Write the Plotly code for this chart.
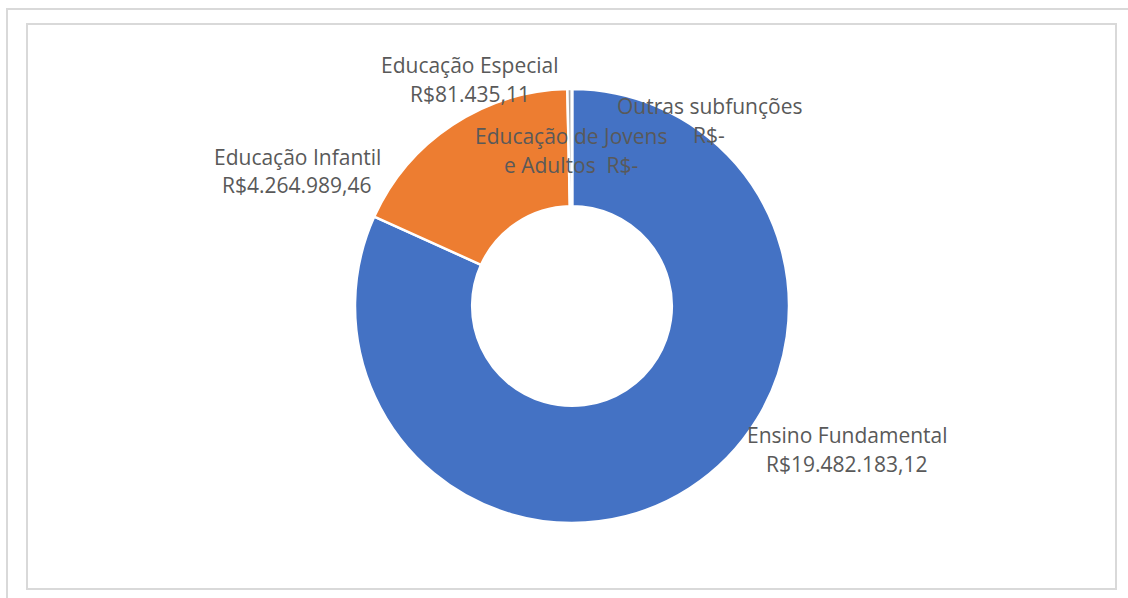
import plotly.graph_objects as go

# ---- data ----
categories = ["Ensino Fundamental", "Educação Infantil", "Educação Especial",
              "Educação de Jovens e Adultos", "Outras subfunções"]
values = [19482183.12, 4264989.46, 81435.11, 0.0, 0.0]
# label text as wrapped in the reference
label_lines = [["Ensino Fundamental"], ["Educação Infantil"], ["Educação Especial"],
               ["Educação de Jovens", "e Adultos "], ["Outras subfunções"]]
colors = ["#4472C4", "#ED7D31", "#A5A5A5", "#FFC000", "#5B9BD5"]

W, H = 1128, 598


def brl(v):
    if v == 0:
        return "R$-"
    s = f"{v:,.2f}"
    s = s.replace(",", "X").replace(".", ",").replace("X", ".")
    return "R$" + s


def px_x(x):
    return x / W


def px_y(y):
    return 1 - y / H


# ---- pie geometry (pixels) ----
cx, cy, r = 572, 306, 217

fig = go.Figure(go.Pie(
    labels=categories,
    values=values,
    sort=False,
    direction="clockwise",
    rotation=0,
    hole=0.46,
    marker=dict(colors=colors, line=dict(color="white", width=2.5)),
    textinfo="none",
    hoverinfo="label+value",
    showlegend=False,
    domain=dict(x=[px_x(cx - r), px_x(cx + r)], y=[px_y(cy + r), px_y(cy - r)]),
))

# label positions (pixel centres of text blocks)
label_pos = [(847, 449), (297, 171), (470, 80), (571, 150), (709, 120)]
line_gap = 29
font = dict(family="Open Sans, sans-serif", size=21, color="#595959")

for i, cat in enumerate(categories):
    lines = list(label_lines[i])
    val = brl(values[i])
    if len(lines) == 2:
        lines[-1] = lines[-1] + " " + val
    else:
        lines = lines + [val]
    x, y = label_pos[i]
    n = len(lines)
    for k, ln in enumerate(lines):
        yy = y + (k - (n - 1) / 2) * line_gap
        fig.add_annotation(
            x=px_x(x), y=px_y(yy), xref="paper", yref="paper",
            text=ln, showarrow=False, xanchor="center", yanchor="middle",
            align="center", font=font,
        )

# frames
fig.add_shape(type="rect", xref="paper", yref="paper",
              x0=px_x(7), x1=px_x(1140), y0=px_y(9), y1=px_y(610),
              line=dict(color="#D9D9D9", width=2), fillcolor="rgba(0,0,0,0)")
fig.add_shape(type="rect", xref="paper", yref="paper",
              x0=px_x(27), x1=px_x(1116), y0=px_y(24), y1=px_y(589),
              line=dict(color="#D9D9D9", width=2), fillcolor="rgba(0,0,0,0)")

fig.update_layout(
    width=W, height=H,
    margin=dict(l=0, r=0, t=0, b=0),
    paper_bgcolor="white",
    plot_bgcolor="white",
)

fig.write_html(
    "out.html",
    config={"displayModeBar": False},
    post_script="document.body.style.margin='0';document.body.style.overflow='hidden';",
)
